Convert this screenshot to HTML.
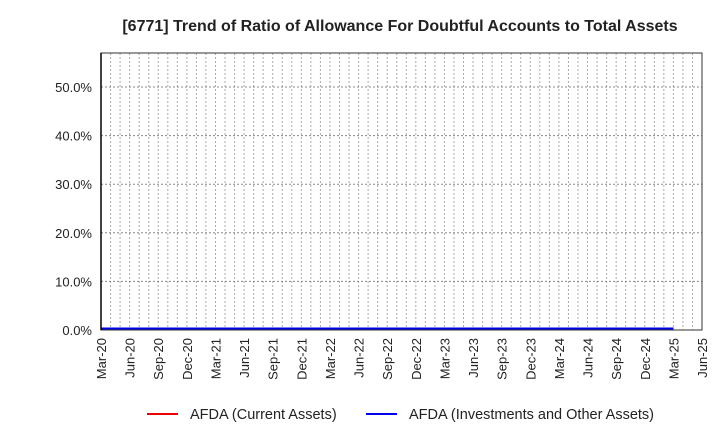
<!DOCTYPE html>
<html><head><meta charset="utf-8"><style>
body{margin:0;background:#fff;font-family:"Liberation Sans",sans-serif}
</style></head><body>
<svg id="c" width="720" height="440" xmlns="http://www.w3.org/2000/svg">
<text x="400" y="31" text-anchor="middle" font-size="16" font-weight="bold" fill="#222">[6771]  Trend of Ratio of Allowance For Doubtful Accounts to Total Assets</text>
<g id="grid"></g><g id="series"></g><g id="axes"></g>
<g>
<line x1="147" y1="414" x2="178" y2="414" stroke="#e00" stroke-width="2"/>
<text x="190" y="419" font-size="14.5" fill="#222">AFDA (Current Assets)</text>
<line x1="366" y1="414" x2="397" y2="414" stroke="#00e" stroke-width="2"/>
<text x="409" y="419" font-size="14.5" fill="#222">AFDA (Investments and Other Assets)</text>
</g>
</svg>
<script>
const xLabels=["Mar-20","Jun-20","Sep-20","Dec-20","Mar-21","Jun-21","Sep-21","Dec-21","Mar-22","Jun-22","Sep-22","Dec-22","Mar-23","Jun-23","Sep-23","Dec-23","Mar-24","Jun-24","Sep-24","Dec-24","Mar-25","Jun-25"];
const yTicks=[0,10,20,30,40,50];
const yTickLabels=["0.0%","10.0%","20.0%","30.0%","40.0%","50.0%"];
const currentAssets=[0.2,0.2,0.2,0.2,0.2,0.2,0.2,0.2,0.2,0.2,0.2,0.2,0.2,0.2,0.2,0.2,0.2,0.2,0.2,0.2,0.2];
const investments=[0.2,0.2,0.2,0.2,0.2,0.2,0.2,0.2,0.2,0.2,0.2,0.2,0.2,0.2,0.2,0.2,0.2,0.2,0.2,0.2,0.2];
const L=101,R=702,T=53,B=330,nMonths=63,yMax=57;
const X=m=>L+(R-L)*m/nMonths, Y=v=>B-(B-T)*v/yMax;
const ns="http://www.w3.org/2000/svg";
function mk(t,a,p){const e=document.createElementNS(ns,t);for(const k in a)e.setAttribute(k,a[k]);p.appendChild(e);return e;}
const g=document.getElementById('grid'),ax=document.getElementById('axes'),s=document.getElementById('series');
for(let m=1;m<nMonths;m++){const l=mk('line',{x1:X(m),x2:X(m),y1:T,y2:B,stroke:'#aaa','stroke-dasharray':'2,2','stroke-width':1},g);
}
yTicks.forEach((v,i)=>{if(v>0){const l=mk('line',{x1:L,x2:R,y1:Y(v),y2:Y(v),stroke:'#888','stroke-dasharray':'2,2'},g);
}
const t=mk('text',{x:92,y:Y(v)+5,'text-anchor':'end','font-size':13,fill:'#222'},ax);t.textContent=yTickLabels[i];
});
const fr=mk('rect',{x:L,y:T,width:R-L,height:B-T,fill:'none',stroke:'#333','stroke-width':1},ax);

const yl=mk('line',{x1:L,x2:L,y1:T,y2:B,stroke:'#000','stroke-width':1.5},ax);
xLabels.forEach((lb,i)=>{const x=X(i*3);const t=mk('text',{x:x+5,y:338,'text-anchor':'end','font-size':13,fill:'#222',transform:`rotate(-90 ${x+5} 338)`},ax);t.textContent=lb;
});
function line(d,c,name){const p=mk('polyline',{points:d.map((v,i)=>X(i*3)+','+Y(v)).join(' '),fill:'none',stroke:c,'stroke-width':3},s);
}
line(currentAssets,'#e00','series-current-assets');
line(investments,'#00e','series-investments');
</script>
</body></html>
